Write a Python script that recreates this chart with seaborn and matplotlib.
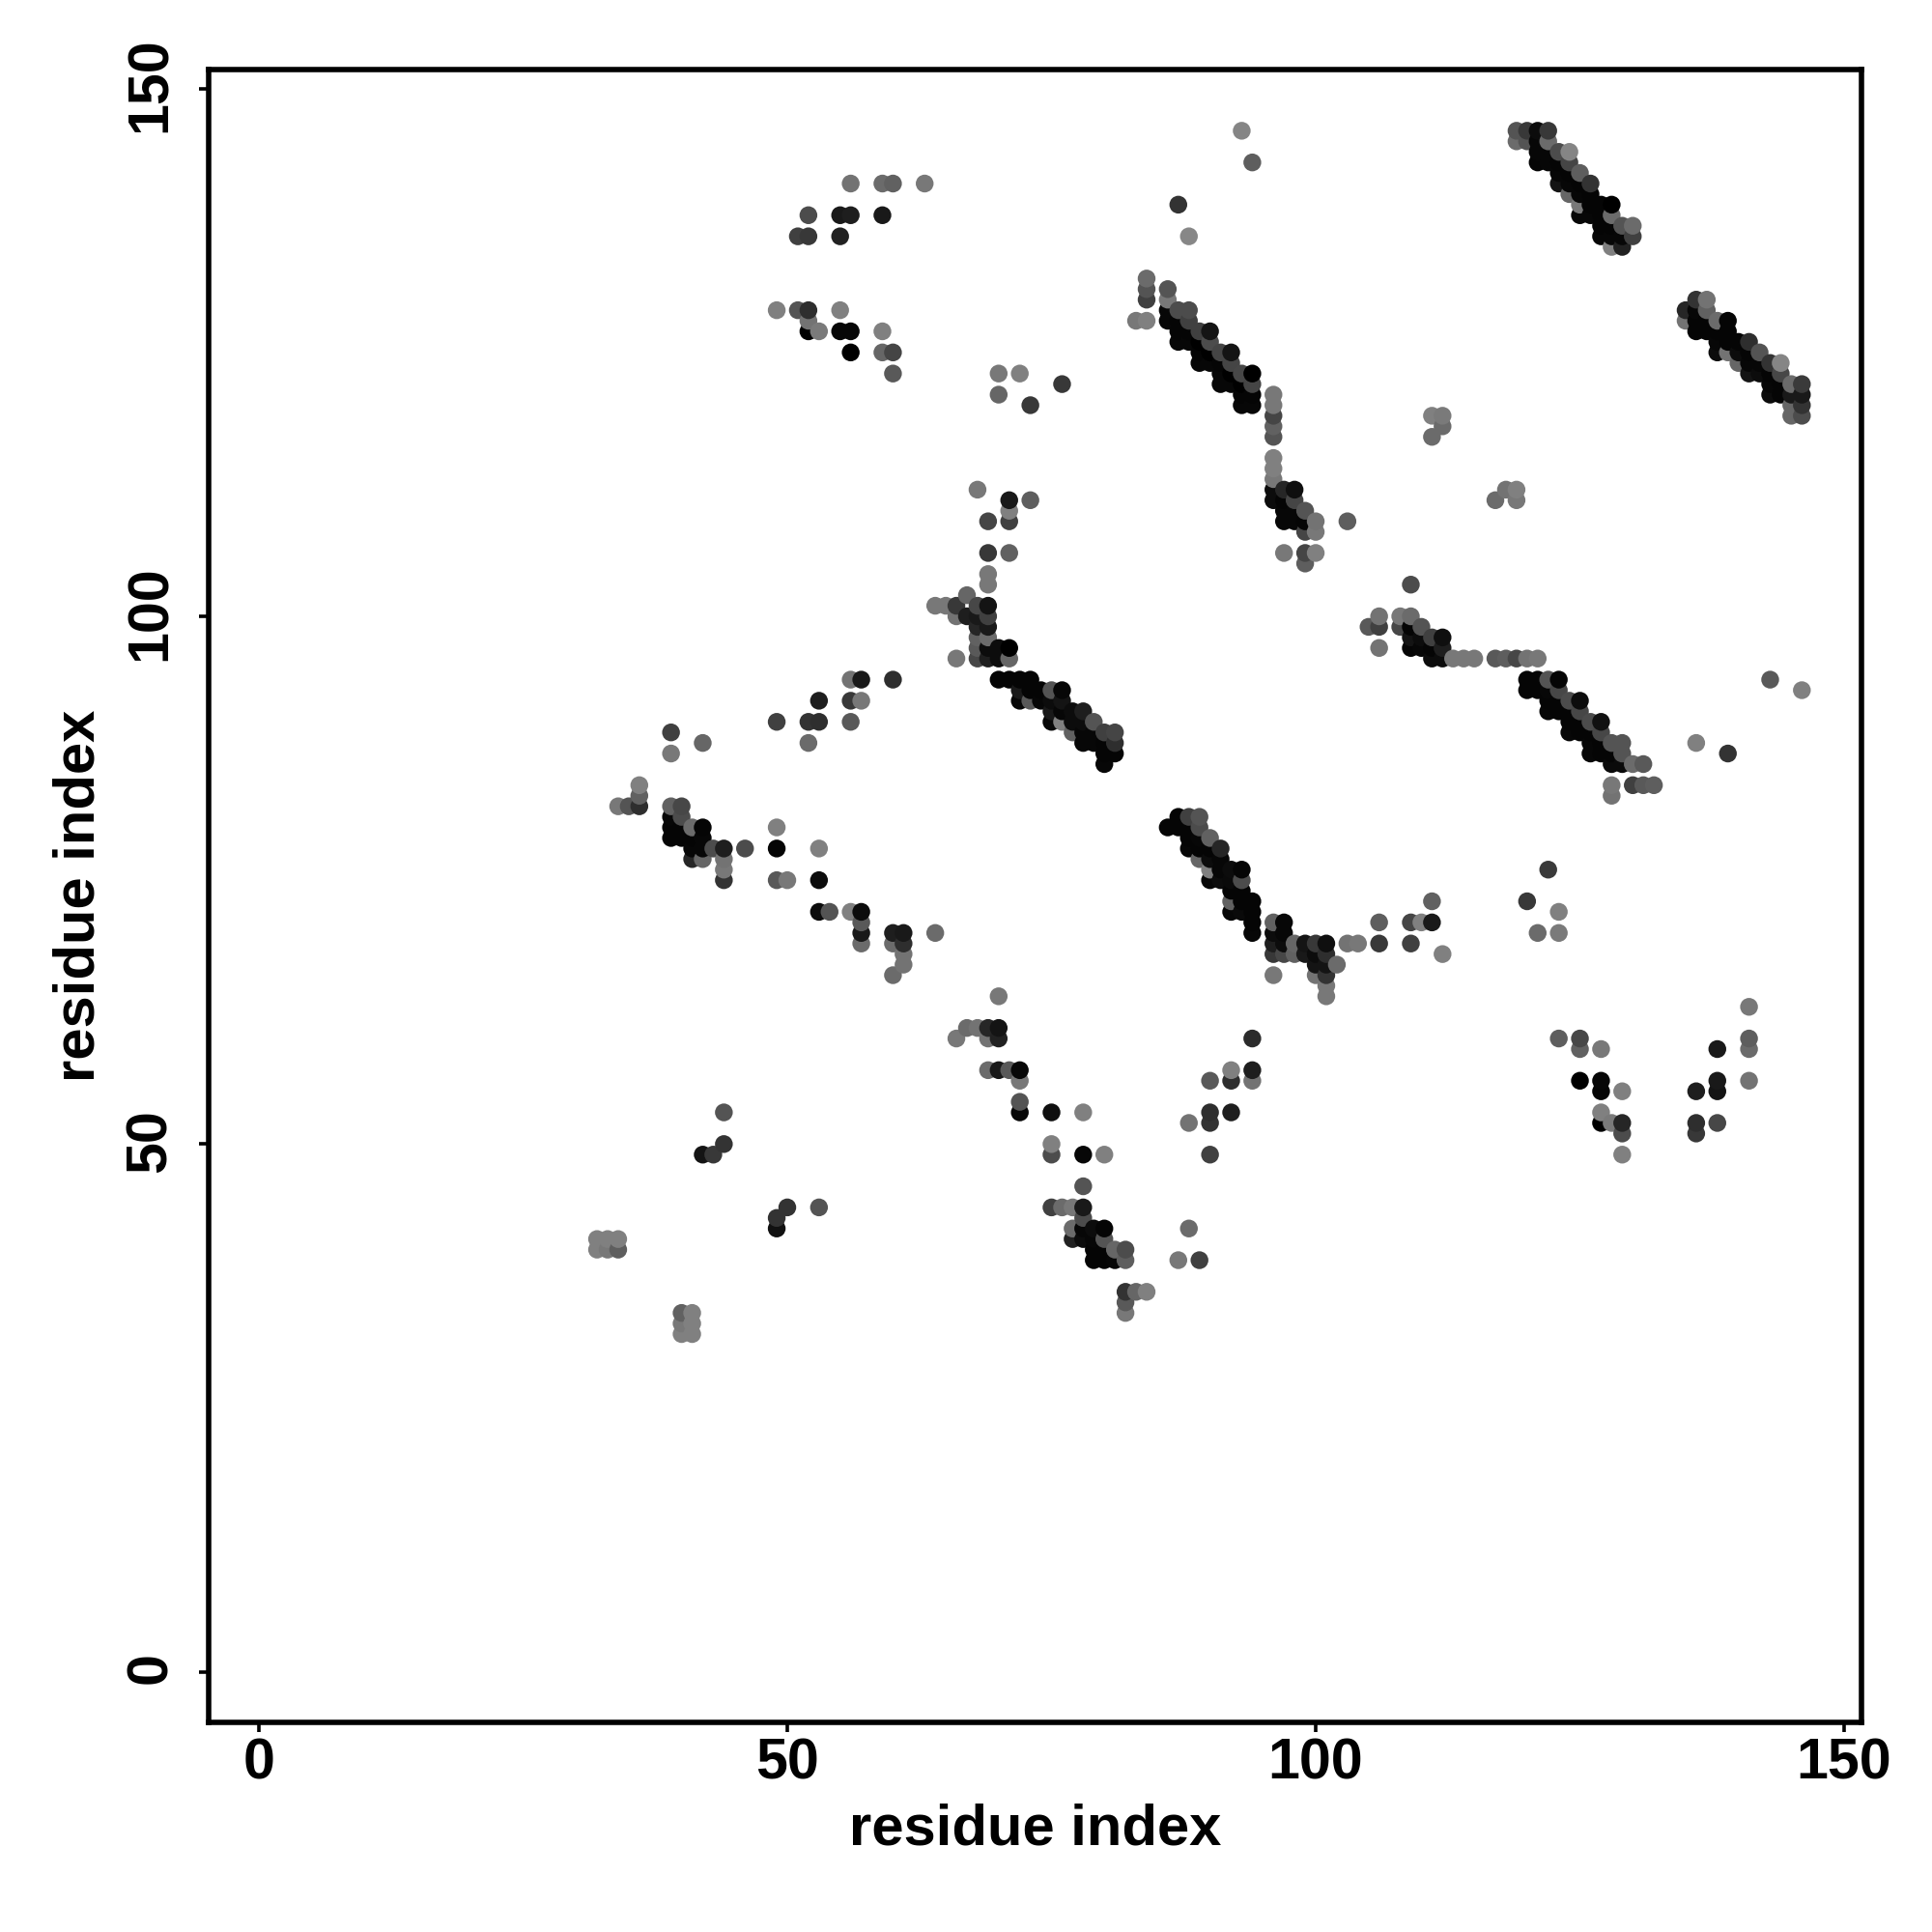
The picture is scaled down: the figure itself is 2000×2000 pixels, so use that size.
import matplotlib
matplotlib.use("Agg")
import matplotlib.pyplot as plt
import matplotlib.transforms as mtrans
import seaborn as sns
import pandas as pd

# contacts as (residue i, residue j, grey level)
upper_left = [
    (56,141,.45),(59,141,.42),(60,141,.38),(63,141,.47),
    (52,138,.3),(55,138,.1),(56,138,.12),(59,138,.1),
    (51,136,.25),(52,136,.22),(55,136,.13),
    (49,129,.5),(51,129,.33),(52,129,.18),(55,129,.5),(52,128,.45),
    (52,127,0),(53,127,.48),(55,127,.03),(56,127,.03),(59,127,.5),
    (56,125,0),(59,125,.4),(60,125,.27),(60,123,.35),
    (70,123,.47),(72,123,.5),(76,122,.22),(70,121,.4),(73,120,.22),
]
band_top_mid = [
    (93,146,.52),(94,143,.37),(87,139,.2),(88,136,.53),
    (84,132,.42),(84,131,.33),(84,130,.25),(84,128,.5),(83,128,.47),
    (86,131,.33),(86,130,.47),(86,129,.03),(86,128,.03),
    (87,129,.3),(88,129,.3),(88,128,.25),(87,128,.02),(87,127,.02),(87,126,.03),
    (88,127,.02),(88,126,.03),(89,127,.25),(90,127,.08),(90,126,.3),(89,126,0),
    (89,125,.02),(89,124,.03),(90,125,0),(90,124,.03),(91,125,.27),(92,125,.08),
    (92,124,.27),(91,124,.02),(91,123,.03),(91,122,.03),(92,123,0),(92,122,.03),
    (93,123,.28),(94,123,0),(94,122,.27),(93,122,0),(93,121,.02),(93,120,.03),
    (94,121,.02),(94,120,.03),
]
column_96 = [
    (96,121,.47),(96,120,.47),(96,119,.27),(96,118,.38),(96,117,.33),
    (96,115,.5),(96,114,.5),(96,113,.47),(96,112,.05),(96,111,.05),
    (97,112,.15),(98,112,.06),(98,111,.27),(97,111,.02),(97,110,.03),(97,109,.03),
    (98,110,.03),(98,109,.03),(99,110,.33),(99,109,.02),(100,109,.45),(100,108,.47),
    (99,108,.27),(103,109,.37),(97,106,.47),(99,106,.27),(99,105,.37),(100,106,.5),
    (111,119,.5),(112,119,.48),(112,118,.42),(111,117,.42),
    (117,111,.42),(118,112,.45),(119,112,.5),(119,111,.47),(109,103,.3),
]
band_top_right = [
    (119,146,.33),(120,146,.22),(121,146,.05),(122,146,.22),
    (119,145,.42),(120,145,.33),(121,145,.03),(122,145,.42),
    (121,144,.03),(121,143,.02),(122,144,.03),(122,143,.03),
    (123,144,.3),(124,144,.52),(123,143,.02),(124,143,.27),(123,142,.03),(123,141,.08),
    (124,142,.02),(124,141,.03),(125,142,.37),(126,141,.2),(125,141,.02),(125,140,.03),
    (124,140,.4),(126,140,.02),(125,139,.47),(126,139,.02),(125,138,.03),(126,138,.03),
    (127,139,.02),(128,139,0),(127,138,.02),(128,138,.42),(127,137,.02),(127,136,.03),
    (128,137,.02),(128,136,.03),(129,137,.33),(130,137,.42),(129,136,.03),(130,136,.25),
    (128,135,.5),(129,135,.13),
]
band_far_right = [
    (137,130,.45),(136,130,.2),(135,129,.15),(135,128,.45),(136,129,.03),(136,128,.02),
    (136,127,.02),(137,129,.38),(137,128,.02),(137,127,.02),(138,128,.42),(139,128,.02),
    (138,127,.02),(139,127,.02),(138,126,.03),(138,125,.05),(139,126,.02),(139,125,.45),
    (140,126,.02),(140,125,.05),(140,124,.4),(141,126,.18),(141,125,.02),(141,124,.03),
    (141,123,.08),(142,125,.33),(142,124,.03),(142,123,.05),(143,124,.2),(144,124,.52),
    (143,123,.02),(144,123,.28),(143,122,.03),(143,121,.05),(144,122,.02),(144,121,.02),
    (145,122,.42),(146,122,.23),(145,121,.1),(146,121,.1),(145,120,.4),(146,120,.2),
    (145,119,.4),(146,119,.3),
]
band_centre = [
    (68,112,.47),(71,111,.1),(71,110,.5),(71,109,.25),(73,111,.37),(69,109,.27),
    (69,106,.22),(71,106,.38),(69,104,.47),(69,103,.47),(67,102,.4),
    (64,101,.47),(65,101,.47),(66,101,.22),(68,101,.28),(69,101,.08),
    (66,100,.45),(67,100,.12),(68,100,.1),(69,100,.25),(68,99,.15),(69,99,.1),
    (68,98,.38),(69,98,.42),(68,97,.35),(69,97,.05),(70,97,.05),(71,97,0),
    (66,96,.47),(68,96,.28),(69,96,.12),(70,96,.05),(71,96,.4),
    (70,94,.02),(71,94,.02),(72,94,.02),(73,94,.02),
    (72,93,.1),(73,93,.02),(74,93,.02),(75,93,.33),(76,93,.03),
    (72,92,.03),(73,92,.35),(74,92,.03),(75,92,.05),(76,92,.08),
    (75,91,.1),(76,91,.03),(77,91,.05),(78,91,.12),
    (75,90,.03),(76,90,.5),(77,90,.05),(78,90,.05),(79,90,.33),
    (77,89,.38),(78,89,.03),(79,89,.03),(80,89,.25),(81,89,.27),
    (78,88,.03),(79,88,.03),(80,88,.02),(81,88,.18),(80,87,.02),(81,87,.02),(80,86,.03),
]
band_right_mid = [
    (105,99,.35),(106,100,.45),(106,99,.25),(106,97,.45),
    (108,100,.47),(109,100,.42),(108,99,.28),(109,99,.02),(110,99,.33),
    (109,98,.08),(110,98,.05),(111,98,.25),(112,98,.06),
    (109,97,.02),(110,97,.03),(111,97,.02),(112,97,.12),(111,96,.05),(112,96,.05),
    (113,96,.47),(114,96,.47),(115,96,.47),(117,96,.35),(118,96,.37),(119,96,.28),
    (120,96,.45),(121,96,.47),
    (120,94,.02),(121,94,.02),(122,94,.33),(123,94,.02),
    (120,93,.02),(121,93,.02),(122,93,.03),(123,93,.28),
    (122,92,.02),(123,92,.02),(124,92,.3),(125,92,.05),
    (122,91,.03),(123,91,.02),(124,91,.02),(125,91,.28),
    (124,90,.02),(125,90,.02),(126,90,.3),(127,90,.07),
    (124,89,.03),(125,89,.02),(126,89,.02),(127,89,.28),
    (126,88,.03),(127,88,.02),(128,88,.33),(129,88,.33),
    (126,87,.03),(127,87,.02),(128,87,.02),(129,87,.33),
    (128,86,.04),(129,86,.04),(130,86,.42),(131,86,.35),
    (128,84,.47),(128,83,.45),(130,84,.25),(131,84,.35),(132,84,.37),
    (136,88,.5),(139,87,.2),(143,94,.35),(146,93,.5),
]
left_mid = [
    (57,94,.1),(56,94,.45),(60,94,.18),(53,92,.12),(56,92,.22),(57,92,.47),
    (49,90,.25),(52,90,.2),(53,90,.18),(56,90,.35),(52,88,.42),
    (39,89,.25),(39,87,.47),(42,88,.4),
    (36,84,.5),(36,83,.38),(36,82,.18),(35,82,.33),(34,82,.47),
    (39,82,.38),(40,82,.28),(39,81,.03),(40,81,.3),
    (39,80,.02),(40,80,.02),(41,80,.42),(42,80,.02),
    (39,79,.02),(40,79,.02),(41,79,.02),(42,79,.03),
    (41,78,.03),(42,78,.03),(43,78,.3),(44,78,.12),
    (41,77,.15),(42,77,.4),(44,77,.45),(44,76,.47),(44,75,.2),
    (46,78,.3),(49,78,.02),(49,80,.5),(53,78,.5),
    (49,75,.35),(50,75,.47),(53,75,.05),
    (53,72,.05),(54,72,.33),(56,72,.5),(57,72,.05),(57,71,.35),(57,70,.1),(57,69,.42),
    (60,70,.12),(61,70,.1),(64,70,.42),(60,69,.42),(61,69,.18),(61,68,.45),(61,67,.45),(60,66,.42),
]
band_lower_mid = [
    (86,80,.02),(87,81,.02),(88,81,.25),(89,81,.33),(87,80,.02),(88,80,.02),(89,80,.3),
    (88,79,.02),(88,78,.03),(89,79,.03),(89,78,.02),(90,79,.38),(91,78,.15),(90,78,.02),
    (89,77,.4),(90,77,.05),(91,77,.03),(90,76,.5),(91,76,.03),(90,75,.03),(91,75,.05),
    (92,76,.05),(93,76,.02),(93,75,.3),(92,75,.04),(92,74,.02),(93,74,.02),(92,73,.38),
    (93,73,.02),(94,73,.02),(92,72,.03),(93,72,.04),(94,72,.02),(94,71,.02),(94,70,.03),
    (96,71,.38),(97,71,.03),(96,70,.05),(97,70,.03),(96,69,.12),(97,69,.05),(96,68,.22),
    (97,68,.28),(98,69,.4),(98,68,.38),(99,69,.08),(99,68,.1),(100,69,.22),(101,69,.06),
    (100,68,.05),(101,68,.18),(100,67,.08),(101,67,.08),(102,67,.42),(100,66,.45),
    (101,66,.2),(101,65,.47),(101,64,.47),(96,66,.47),
    (103,69,.45),(104,69,.47),(106,71,.37),(106,69,.22),(109,71,.27),(110,71,.5),
    (111,71,.1),(111,73,.38),(109,69,.25),(112,68,.5),
]
lower_right = [
    (122,76,.23),(120,73,.22),(123,72,.5),(121,70,.42),(123,70,.48),
    (123,60,.37),(125,60,.28),(125,59,.38),(127,59,.47),
    (125,56,0),(127,56,.03),(127,55,.02),(129,55,.5),
    (127,53,.5),(127,52,0),(128,52,.48),(129,52,.15),(129,51,.3),(129,49,.5),
    (136,55,.12),(138,56,.1),(138,55,.08),(138,59,.1),(136,52,.18),(136,51,.22),(138,52,.28),
    (141,63,.47),(141,60,.37),(141,59,.42),(141,56,.45),
]
lower_mid = [
    (70,64,.47),(67,61,.42),(68,61,.45),(69,61,.15),(70,61,.08),(66,60,.47),(69,60,.45),(70,60,.13),
    (69,57,.42),(70,57,.1),(71,57,.35),(72,57,.03),(72,56,.47),(72,54,.33),(72,53,.03),
    (75,53,.06),(78,53,.5),(75,50,.5),(75,49,.3),(78,49,.03),(80,49,.5),(78,46,.33),
    (75,44,.25),(76,44,.42),(77,44,.47),(78,44,.1),(78,43,.3),
    (77,42,.42),(78,42,.03),(79,42,.05),(80,42,.02),(77,41,.13),(78,41,.05),(79,41,.03),(80,41,.33),
    (79,40,.02),(80,40,.02),(81,40,.4),(82,40,.3),(79,39,.02),(80,39,.02),(81,39,.03),(82,39,.37),
    (87,39,.47),(89,39,.25),(88,42,.42),(82,36,.2),(83,36,.4),(84,36,.5),(82,35,.35),(82,34,.47),
    (94,60,.17),(92,57,.5),(94,57,.12),(90,56,.35),(92,56,.18),(94,56,.45),
    (90,53,.18),(92,53,.12),(90,52,.2),(88,52,.45),(90,49,.25),
]
lower_left = [
    (44,53,.33),(44,50,.2),(43,49,.22),(42,49,.08),
    (50,44,.2),(49,43,.2),(49,42,.07),(53,44,.33),
    (32,41,.5),(33,41,.5),(34,41,.5),(32,40,.5),(33,40,.47),(34,40,.37),
    (40,34,.38),(41,34,.5),(40,33,.47),(41,33,.5),(40,32,.5),(41,32,.5),
]
ticks = [0, 50, 100, 150]

rows = (upper_left + band_top_mid + column_96 + band_top_right + band_far_right + band_centre
        + band_right_mid + left_mid + band_lower_mid + lower_right + lower_mid + lower_left)
df = pd.DataFrame(rows, columns=["i", "j", "grey"]).sort_values(["i", "j"])

sns.set_theme(style="white")
plt.rcParams["font.family"] = ["Liberation Sans", "DejaVu Sans"]
plt.rcParams["font.weight"] = "bold"

fig = plt.figure(figsize=(10, 10), dpi=200)
ax = fig.add_axes([216 / 2000, 1 - 1783 / 2000, 1711 / 2000, 1711 / 2000])
sns.scatterplot(data=df, x="i", y="j", hue="grey", palette="gray", hue_norm=(0, 1),
                s=44, linewidth=0, edgecolor="none", legend=False, ax=ax)

ax.set_xlim(-4.75, 151.64)
ax.set_ylim(-4.79, 151.80)
ax.set_xticks(ticks)
ax.set_yticks(ticks)
ax.tick_params(axis="both", which="major", direction="out", length=3.5, width=1.3, color="black",
               labelcolor="black", left=True, bottom=True)
ax.tick_params(axis="x", labelsize=21.3, pad=2.2)
ax.tick_params(axis="y", labelsize=21.3, pad=8)
# nudge the rotated y tick labels up a little
nudge = mtrans.ScaledTranslation(0, 1.3 / 72, fig.dpi_scale_trans)
for lab in ax.get_yticklabels():
    lab.set_rotation(90)
    lab.set_va("center")
    lab.set_transform(lab.get_transform() + nudge)
for s in ax.spines.values():
    s.set_visible(True)
    s.set_color("black")
    s.set_linewidth(2.0)
ax.set_xlabel("residue index", fontsize=21.5, fontweight="bold", color="black", labelpad=4.4)
ax.set_ylabel("residue index", fontsize=21.5, fontweight="bold", color="black", labelpad=7.2)

fig.savefig("out.png", dpi=200)
